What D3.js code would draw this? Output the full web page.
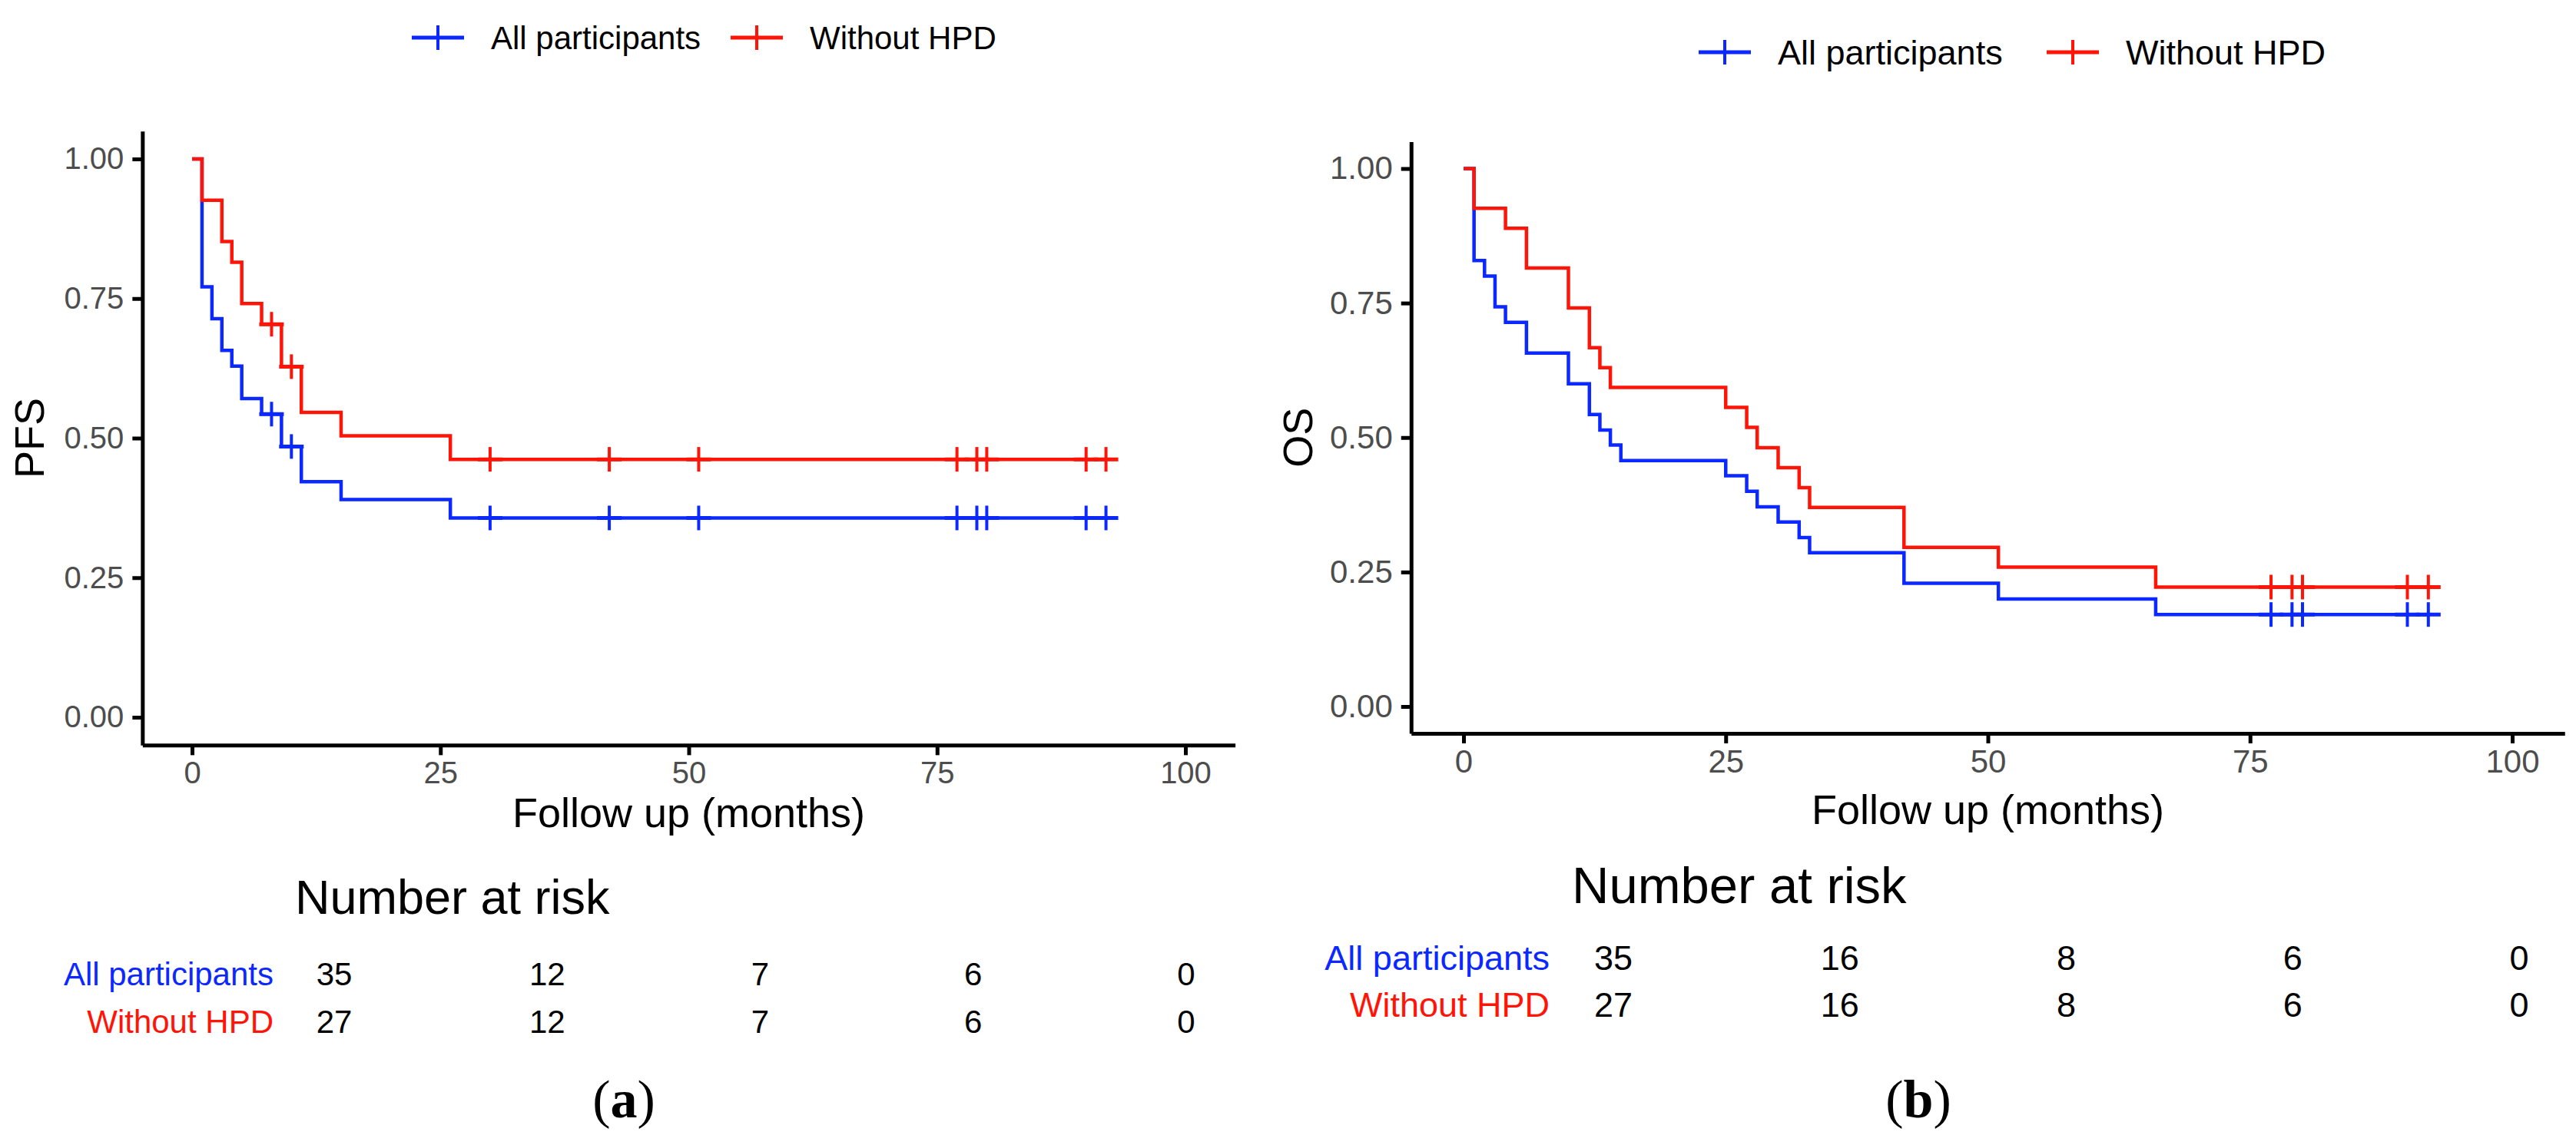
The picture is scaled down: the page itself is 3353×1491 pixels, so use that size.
<!DOCTYPE html>
<html>
<head>
<meta charset="utf-8">
<script src="https://cdn.jsdelivr.net/npm/d3@7"></script>
<style>
  body { margin: 0; background: #fff; }
  text { font-family: "Liberation Sans", Arial, sans-serif; }
</style>
</head>
<body>
<script>
// ---- data ----
var groups = ['All participants', 'Without HPD'];
var colors = ['#0a28ff', '#ff1408'];

// PFS, panel (a)
var pfsAllTime = [0, 1, 2, 3, 4, 5, 7, 9, 11, 15, 26];
var pfsAllSurv = [1, 0.771, 0.714, 0.657, 0.629, 0.571, 0.543, 0.485, 0.422, 0.390, 0.357];
var pfsAllCens = [8, 10, 30, 42, 51, 77, 79, 80, 90, 92];
var pfsHpdTime = [0, 1, 3, 4, 5, 7, 9, 11, 15, 26];
var pfsHpdSurv = [1, 0.926, 0.852, 0.815, 0.741, 0.704, 0.628, 0.546, 0.504, 0.462];
var pfsHpdCens = [8, 10, 30, 42, 51, 77, 79, 80, 90, 92];

// OS, panel (b)
var osAllTime = [0, 1, 2, 3, 4, 6, 10, 12, 13, 14, 15, 25, 27, 28, 30, 32, 33, 42, 51, 66];
var osAllSurv = [1, 0.829, 0.800, 0.743, 0.714, 0.657, 0.600, 0.543, 0.514, 0.486, 0.457, 0.429, 0.400, 0.371, 0.343, 0.314, 0.286, 0.229, 0.200, 0.171];
var osAllCens = [77, 79, 80, 90, 92];
var osHpdTime = [0, 1, 4, 6, 10, 12, 13, 14, 25, 27, 28, 30, 32, 33, 42, 51, 66];
var osHpdSurv = [1, 0.926, 0.889, 0.815, 0.741, 0.667, 0.630, 0.593, 0.556, 0.519, 0.481, 0.444, 0.407, 0.370, 0.296, 0.259, 0.222];
var osHpdCens = [77, 79, 80, 90, 92];

var xTicks = [0, 25, 50, 75, 100];
var yTicks = [0, 0.25, 0.5, 0.75, 1];
var riskTimes = [0, 25, 50, 75, 100];
var pfsRiskAll = [35, 12, 7, 6, 0];
var pfsRiskHpd = [27, 12, 7, 6, 0];
var osRiskAll = [35, 16, 8, 6, 0];
var osRiskHpd = [27, 16, 8, 6, 0];

var svg = d3.select('body').append('svg')
  .attr('width', 3353).attr('height', 1491);
svg.append('rect').attr('width', 3353).attr('height', 1491).attr('fill', '#fff');

var drawPanel = function(p) {
  // scales with ggplot-like 5% expansion
  var x = d3.scaleLinear().domain([-5, 105])
    .range([p.x0 - 0.05 * (p.x100 - p.x0), p.x0 + 1.05 * (p.x100 - p.x0)]);
  var y = d3.scaleLinear().domain([-0.05, 1.05])
    .range([p.y0 + 0.05 * (p.y0 - p.y1), p.y1 - 0.05 * (p.y0 - p.y1)]);
  var g = svg.append('g');

  var xAxis = g.append('g').attr('transform', 'translate(0,' + y(-0.05) + ')')
    .call(d3.axisBottom(x).tickValues(xTicks).tickSize(13).tickPadding(8).tickSizeOuter(0));
  var yAxis = g.append('g').attr('transform', 'translate(' + x(-5) + ',0)')
    .call(d3.axisLeft(y).tickValues(yTicks).tickFormat(d3.format('.2f')).tickSize(13).tickPadding(11).tickSizeOuter(0));
  [xAxis, yAxis].forEach(function(a) {
    a.select('.domain').attr('stroke', '#000').attr('stroke-width', 5);
    a.selectAll('.tick line').attr('stroke', '#000').attr('stroke-width', 5);
    a.selectAll('.tick text').attr('fill', '#4d4d4d')
      .style('font-size', p.tickFont + 'px').style('font-family', '"Liberation Sans", Arial, sans-serif');
  });

  g.append('text').attr('x', (x(-5) + x(105)) / 2).attr('y', p.xTitleY)
    .attr('text-anchor', 'middle').style('font-size', '54px').text('Follow up (months)');
  g.append('text').attr('transform', 'translate(' + p.yTitleX + ',' + y(0.5) + ') rotate(-90)')
    .attr('text-anchor', 'middle').style('font-size', '54px').text(p.yTitle);

  var line = d3.line().curve(d3.curveStepAfter)
    .x(function(d) { return x(d[0]); }).y(function(d) { return y(d[1]); });

  p.series.forEach(function(s, i) {
    var pts = s.time.map(function(t, k) { return [t, s.surv[k]]; });
    var end = d3.max(s.cens);
    pts.push([end, s.surv[s.surv.length - 1]]);
    g.append('path').datum(pts).attr('d', line)
      .attr('fill', 'none').attr('stroke', colors[i]).attr('stroke-width', 4.5);
    var bis = d3.bisector(function(d) { return d; }).right;
    s.cens.forEach(function(c) {
      var sv = s.surv[bis(s.time, c) - 1];
      g.append('line').attr('x1', x(c)).attr('x2', x(c))
        .attr('y1', y(sv) - 16).attr('y2', y(sv) + 16)
        .attr('stroke', colors[i]).attr('stroke-width', 4);
      g.append('line').attr('x1', x(c) - 16).attr('x2', x(c) + 16)
        .attr('y1', y(sv)).attr('y2', y(sv))
        .attr('stroke', colors[i]).attr('stroke-width', 5);
    });
  });

  // legend
  var lx = p.legX;
  groups.forEach(function(name, i) {
    var kx = lx[i];
    g.append('line').attr('x1', kx - 34).attr('x2', kx + 34).attr('y1', p.legY).attr('y2', p.legY)
      .attr('stroke', colors[i]).attr('stroke-width', 5);
    g.append('line').attr('x1', kx).attr('x2', kx).attr('y1', p.legY - 16).attr('y2', p.legY + 16)
      .attr('stroke', colors[i]).attr('stroke-width', 4);
    g.append('text').attr('x', kx + 69).attr('y', p.legY + p.legFont * 0.36)
      .style('font-size', p.legFont + 'px').text(name);
  });

  // number at risk table
  g.append('text').attr('x', p.nrX).attr('y', p.nrY).style('font-size', p.nrFont + 'px').text('Number at risk');
  var rx = d3.scaleLinear().domain([0, 100]).range(p.riskRange);
  p.risk.forEach(function(row, i) {
    g.append('text').attr('x', p.riskLabelX).attr('y', p.riskY[i]).attr('text-anchor', 'end')
      .attr('fill', colors[i]).style('font-size', p.riskFont + 'px').text(groups[i]);
    row.forEach(function(n, k) {
      g.append('text').attr('x', rx(riskTimes[k])).attr('y', p.riskY[i]).attr('text-anchor', 'middle')
        .style('font-size', p.riskFont + 'px').text(n);
    });
  });

  // panel letter
  var cap = g.append('text').attr('x', p.capX).attr('y', 1455).attr('text-anchor', 'middle')
    .style('font-family', '"Liberation Serif", "Times New Roman", serif').style('font-size', '70px');
  cap.append('tspan').text('(');
  cap.append('tspan').style('font-weight', 'bold').text(p.letter);
  cap.append('tspan').text(')');
};

drawPanel({
  x0: 250, x100: 1543, y0: 934, y1: 207, tickFont: 40,
  xTitleY: 1077, yTitleX: 57, yTitle: 'PFS',
  series: [
    {time: pfsAllTime, surv: pfsAllSurv, cens: pfsAllCens},
    {time: pfsHpdTime, surv: pfsHpdSurv, cens: pfsHpdCens}
  ],
  legX: [570, 985], legY: 49, legFont: 42,
  nrX: 384, nrY: 1190, nrFont: 63,
  riskRange: [435, 1544], riskLabelX: 356, riskY: [1283, 1345], riskFont: 42,
  risk: [pfsRiskAll, pfsRiskHpd],
  capX: 812, letter: 'a'
});

drawPanel({
  x0: 1905, x100: 3270, y0: 920, y1: 219.5, tickFont: 42,
  xTitleY: 1073, yTitleX: 1708, yTitle: 'OS',
  series: [
    {time: osAllTime, surv: osAllSurv, cens: osAllCens},
    {time: osHpdTime, surv: osHpdSurv, cens: osHpdCens}
  ],
  legX: [2245, 2698], legY: 68, legFont: 45,
  nrX: 2046, nrY: 1176, nrFont: 67,
  riskRange: [2100, 3279], riskLabelX: 2017, riskY: [1263, 1324], riskFont: 45,
  risk: [osRiskAll, osRiskHpd],
  capX: 2497, letter: 'b'
});
</script>
</body>
</html>
